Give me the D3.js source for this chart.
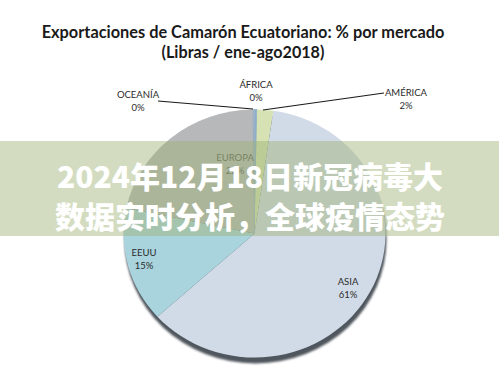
<!DOCTYPE html>
<html><head><meta charset="utf-8">
<script src="https://cdn.jsdelivr.net/npm/d3@7"></script>
<style>html,body{margin:0;padding:0;background:#fff;}svg{display:block;}</style>
</head><body>
<svg id="c" width="499" height="380"></svg>
<script>
const titleLines = ["Exportaciones de Camarón Ecuatoriano: % por mercado", "(Libras / ene-ago2018)"];
const categories = ["ÁFRICA", "AMÉRICA", "ASIA", "EEUU", "EUROPA", "OCEANÍA"];
const values = [0.3, 2, 61, 15, 21.5, 0.2];
const pctLabels = ["0%", "2%", "61%", "15%", "22%", "0%"];
const colors = ["#8aaecb", "#d6e2b3", "#d1dbe8", "#a9d4de", "#b7b8ba", "#9fb3c6"];
const bannerLines = ["2024年12月18日新冠病毒大", "数据实时分析，全球疫情态势"];

const svg = d3.select("#c");
const defs = svg.append("defs");
defs.append("filter").attr("id","blur").attr("x","-10%").attr("y","-10%").attr("width","120%").attr("height","120%")
  .append("feGaussianBlur").attr("stdDeviation", 1.2);

function fitWidth(sel, target) {
  sel.each(function(d,i){
    const t = d3.select(this);
    const w = this.getComputedTextLength();
    const fs = parseFloat(t.attr("font-size"));
    const tw = Array.isArray(target) ? target[i] : target;
    if (w > 0) t.attr("font-size", fs * tw / w);
  });
}

const title = svg.append("g").selectAll("text").data(titleLines).join("text")
  .attr("x", 243).attr("y", (d,i)=> i===0 ? 38 : 58)
  .attr("text-anchor","middle")
  .attr("font-family","Lato, 'Open Sans', sans-serif").attr("font-weight","bold")
  .attr("font-size", 15).attr("fill","#1a1a1a")
  .text(d=>d);
fitWidth(title, [403, 163]);

const cx = 254.5, cy = 233.5, R = 131, ky = 124/131;
const pieG = svg.append("g").attr("transform", `translate(${cx},${cy})`);
pieG.append("ellipse").attr("cx", 1).attr("cy", 6).attr("rx", R).attr("ry", R*ky)
  .attr("fill", "#50565d").attr("filter","url(#blur)");
const sliceG = pieG.append("g").attr("transform", `scale(1,${ky})`);
const pie = d3.pie().sort(null).value(d=>d)(values);
const arc = d3.arc().innerRadius(0).outerRadius(R);
sliceG.selectAll("path").data(pie).join("path")
  .attr("d", arc).attr("fill", (d,i)=>colors[i])
  .attr("stroke", (d,i)=> (i===0||i===5) ? colors[i] : "none").attr("stroke-width", 0.8);

const labelPos = [
  {x:256, y:88},
  {x:406, y:96},
  {x:348, y:285},
  {x:144, y:256},
  {x:235, y:161},
  {x:138, y:98}
];
const leaders = [
  null,
  [[263,110],[384,93]],
  null, null, null,
  [[158,101],[253,109]]
];
const line = d3.line();
svg.append("g").selectAll("path").data(leaders.filter(d=>d)).join("path")
  .attr("d", d=>line(d)).attr("stroke","#1a1a1a").attr("stroke-width",1.1).attr("fill","none");

const lab = svg.append("g").attr("font-family","Lato, 'Open Sans', sans-serif").attr("font-size", 9.5)
  .attr("text-anchor","middle");
categories.forEach((c,i)=>{
  const p = labelPos[i];
  const col = i===4 ? "#5a5f55" : "#2b2b2b";
  lab.append("text").attr("x",p.x).attr("y",p.y).attr("fill",col).text(c);
  lab.append("text").attr("x",p.x).attr("y",p.y+13).attr("fill",col).text(pctLabels[i]);
});

svg.append("rect").attr("x",0).attr("y",141).attr("width",499).attr("height",95)
  .attr("fill","rgb(158,178,115)").attr("fill-opacity",0.45);
svg.append("g").selectAll("text").data(bannerLines).join("text")
  .attr("x", 250).attr("y",(d,i)=> i===0 ? 188 : 228)
  .attr("text-anchor","middle")
  .attr("font-family","'Noto Sans CJK SC', sans-serif").attr("font-weight","900")
  .attr("font-size", 30).attr("fill","#ffffff")
  .text(d=>d);
</script>
</body></html>
